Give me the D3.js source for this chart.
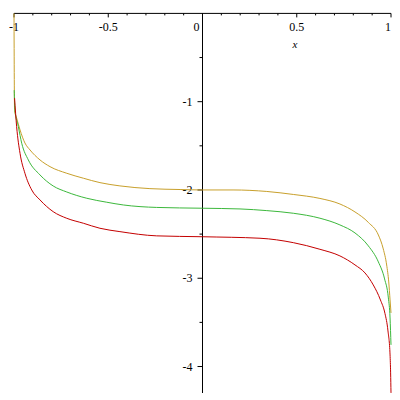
<!DOCTYPE html>
<html>
<head>
<meta charset="utf-8">
<script src="https://cdn.jsdelivr.net/npm/d3@7"></script>
<style>
  body { margin: 0; background: #fff; }
  svg text { font-family: "Liberation Serif", "DejaVu Serif", serif; font-size: 12px; fill: #000; }
</style>
</head>
<body>
<div id="chart"></div>
<script>
// values, [x, y]
var goldCurve = [
    [-1, 0], [-0.997, -1.10], [-0.986, -1.185], [-0.968, -1.32], [-0.942, -1.468], [-0.915, -1.547],
    [-0.862, -1.66], [-0.809, -1.736], [-0.72, -1.811], [-0.632, -1.867], [-0.544, -1.917], [-0.438, -1.954],
    [-0.279, -1.985], [-0.119, -1.995], [0, -2.0], [0.162, -2.0], [0.341, -2.017], [0.482, -2.051],
    [0.623, -2.096], [0.729, -2.159], [0.809, -2.249], [0.88, -2.368], [0.933, -2.51], [0.959, -2.668],
    [0.977, -2.85], [0.988, -3.042], [0.995, -3.246], [1, -3.393]
];
var greenCurve = [
    [-0.999, -0.87], [-0.995, -1.094], [-0.977, -1.283], [-0.959, -1.471], [-0.924, -1.66], [-0.862, -1.83],
    [-0.792, -1.955], [-0.72, -2.023], [-0.614, -2.094], [-0.508, -2.139], [-0.42, -2.17], [-0.243, -2.198],
    [0, -2.207], [0.199, -2.215], [0.341, -2.234], [0.482, -2.264], [0.623, -2.32], [0.729, -2.396],
    [0.809, -2.487], [0.88, -2.634], [0.933, -2.815], [0.966, -3.008], [0.986, -3.223], [0.995, -3.45],
    [1, -3.755]
];
var redCurve = [
    [-0.997, -0.96], [-0.986, -1.283], [-0.968, -1.585], [-0.942, -1.811], [-0.906, -2.0], [-0.862, -2.113],
    [-0.792, -2.246], [-0.72, -2.321], [-0.632, -2.377], [-0.544, -2.434], [-0.438, -2.472], [-0.243, -2.52],
    [0, -2.53], [0.305, -2.547], [0.482, -2.597], [0.623, -2.672], [0.729, -2.747], [0.809, -2.849],
    [0.862, -2.94], [0.906, -3.076], [0.944, -3.246], [0.968, -3.399], [0.984, -3.597], [0.995, -3.869],
    [0.998, -4.072], [1, -4.299]
];
var xTicks = [-1, -0.5, 0, 0.5, 1];
var xTickLabels = ["-1", "-0.5", "0", "0.5", "1"];
var yTicks = [-1, -2, -3, -4];
var yTickLabels = ["-1", "-2", "-3", "-4"];

var width = 400, height = 400;

var scaleX = d3.scaleLinear([-1, 1], [14, 391]);
var scaleY = d3.scaleLinear([0, -4.3], [13.4, 393]);

var svg = d3.select("#chart")
    .append("svg")
    .attr("width", width)
    .attr("height", height);

// x axis along y = 0
var xMinor = d3.range(-10, 11).map(function (i) { return i / 10; })
    .filter(function (v) { return xTicks.indexOf(v) < 0; });

var gx = svg.append("g")
    .attr("transform", `translate(0,${scaleY(0)})`);
gx.append("line")
    .attr("x1", scaleX(-1)).attr("x2", scaleX(1))
    .attr("stroke", "black");
gx.selectAll("line.minor")
    .data(xMinor)
    .enter()
    .append("line")
        .attr("class", "minor")
        .attr("x1", function (d) { return scaleX(d); })
        .attr("x2", function (d) { return scaleX(d); })
        .attr("y2", 2)
        .attr("stroke", "black");
gx.selectAll("line.major")
    .data(xTicks)
    .enter()
    .append("line")
        .attr("class", "major")
        .attr("x1", function (d) { return scaleX(d); })
        .attr("x2", function (d) { return scaleX(d); })
        .attr("y2", 4)
        .attr("stroke", "black");
gx.selectAll("text")
    .data(xTicks)
    .enter()
    .append("text")
        .attr("x", function (d) { return scaleX(d) + (d === 0 ? -6 : d === 1 ? -3 : 0); })
        .attr("y", 18)
        .attr("text-anchor", "middle")
        .text(function (d, i) { return xTickLabels[i]; });
svg.append("text")
    .attr("x", scaleX(0.49))
    .attr("y", 48)
    .attr("text-anchor", "middle")
    .attr("font-style", "italic")
    .style("font-size", "11px")
    .text("x");

// y axis along x = 0
var yMinor = [-0.5, -1.5, -2.5, -3.5];
var gy = svg.append("g")
    .attr("transform", `translate(${scaleX(0)},0)`);
gy.append("line")
    .attr("y1", scaleY(0)).attr("y2", scaleY(-4.3))
    .attr("stroke", "black");
gy.selectAll("line.minor")
    .data(yMinor)
    .enter()
    .append("line")
        .attr("class", "minor")
        .attr("y1", function (d) { return scaleY(d); })
        .attr("y2", function (d) { return scaleY(d); })
        .attr("x2", -3)
        .attr("stroke", "black");
gy.selectAll("line.major")
    .data(yTicks)
    .enter()
    .append("line")
        .attr("class", "major")
        .attr("y1", function (d) { return scaleY(d); })
        .attr("y2", function (d) { return scaleY(d); })
        .attr("x2", -5)
        .attr("stroke", "black");
gy.selectAll("text")
    .data(yTicks)
    .enter()
    .append("text")
        .attr("x", -10)
        .attr("y", function (d) { return scaleY(d) + 4; })
        .attr("text-anchor", "end")
        .text(function (d, i) { return yTickLabels[i]; });

// curves
var line = d3.line()
    .x(function (d) { return scaleX(d[0]); })
    .y(function (d) { return scaleY(d[1]); })
    .curve(d3.curveMonotoneX);

var series = [
    { data: goldCurve, color: "#c8a02c" },
    { data: greenCurve, color: "#3cb83c" },
    { data: redCurve, color: "#c40000" }
];

svg.selectAll("path.curve")
    .data(series)
    .enter()
    .append("path")
        .attr("class", "curve")
        .attr("d", function (s) { return line(s.data); })
        .attr("fill", "none")
        .attr("stroke", function (s) { return s.color; })
        .attr("stroke-width", 1);
</script>
</body>
</html>
